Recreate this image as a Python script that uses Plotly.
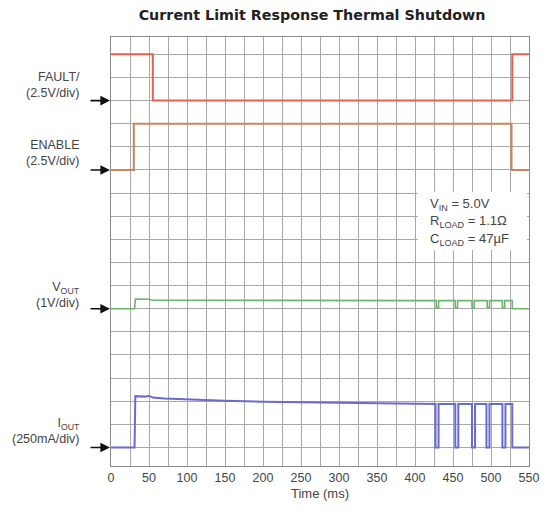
import plotly.graph_objects as go

# ---------------- data ----------------
# Time axis (ms)
x_ticks = [0, 50, 100, 150, 200, 250, 300, 350, 400, 450, 500, 550]

# FAULT/ (V)
fault_t = [0, 55, 55, 528, 528, 550]
fault_v = [5.0, 5.0, 0.0, 0.0, 5.0, 5.0]

# ENABLE (V)
enable_t = [0, 30, 30, 527, 527, 550]
enable_v = [0.0, 0.0, 5.0, 5.0, 0.0, 0.0]

# VOUT (V)
vout_t = [0, 31, 32, 40, 50, 56, 100, 200, 300, 400, 428,
          428, 431, 431, 453, 453, 456, 456, 475, 475, 478, 478,
          495, 495, 498, 498, 515, 515, 518, 518, 528, 528, 550]
vout_v = [0.0, 0.0, 0.42, 0.42, 0.41, 0.37, 0.37, 0.36, 0.355, 0.35, 0.35,
          0.05, 0.05, 0.35, 0.35, 0.05, 0.05, 0.35, 0.35, 0.05, 0.05, 0.35,
          0.35, 0.05, 0.05, 0.35, 0.35, 0.05, 0.05, 0.35, 0.35, 0.0, 0.0]

# IOUT (mA)
iout_t = [0, 31, 32, 38, 45, 50, 55, 70, 100, 150, 200, 250, 300, 350, 400, 427,
          427, 431, 431, 453, 453, 457, 457, 475, 475, 479, 479,
          494, 494, 498, 498, 515, 515, 519, 519, 528, 528, 550]
iout_v = [0, 0, 555, 555, 550, 560, 540, 530, 520, 505, 495, 488, 482, 477, 472, 470,
          0, 0, 470, 470, 0, 0, 470, 470, 0, 0, 470,
          470, 0, 0, 470, 470, 0, 0, 470, 470, 0, 0]

# channel settings: scale per div, baseline division
fault_scale, fault_base = 2.5, 15
enable_scale, enable_base = 2.5, 12
vout_scale, vout_base = 1.0, 6
iout_scale, iout_base = 250.0, 0

cond_lines = ["V<sub>IN</sub> = 5.0V", "R<sub>LOAD</sub> = 1.1Ω", "C<sub>LOAD</sub> = 47µF"]

# ---------------- figure ----------------
FONT = "Liberation Sans, Arial, sans-serif"
OFF = 8  # default page margin of the html body
PAGE_W, PAGE_H = 551, 510
W, H = PAGE_W - OFF, PAGE_H - OFF
# plot area in page pixels
PX0, PX1, PY0, PY1 = 111, 539, 37, 466
L, R, T, B = PX0 - OFF, PAGE_W - PX1, PY0 - OFF, PAGE_H - PY1
pw = PX1 - PX0
ph = PY1 - PY0

def to_div(vals, scale, base):
    return [base + v / scale for v in vals]

def xp(px):  # page px -> x paper
    return (px - PX0) / pw

def yp(py):  # page px -> y paper
    return (PY1 - py) / ph

fig = go.Figure()
fig.add_trace(go.Scatter(x=fault_t, y=to_div(fault_v, fault_scale, fault_base),
                         mode="lines", line=dict(color="#E8604C", width=2), name="FAULT/"))
fig.add_trace(go.Scatter(x=enable_t, y=to_div(enable_v, enable_scale, enable_base),
                         mode="lines", line=dict(color="#C8865A", width=2), name="ENABLE"))
fig.add_trace(go.Scatter(x=vout_t, y=to_div(vout_v, vout_scale, vout_base),
                         mode="lines", line=dict(color="#6DB46D", width=1.6), name="VOUT"))
fig.add_trace(go.Scatter(x=iout_t, y=to_div(iout_v, iout_scale, iout_base),
                         mode="lines", line=dict(color="#6A6ACF", width=2), name="IOUT"))

ymin, ymax = -0.8, 17.75

fig.update_layout(
    width=W, height=H,
    margin=dict(l=L, r=R, t=T, b=B),
    paper_bgcolor="white", plot_bgcolor="white",
    showlegend=False,
    font=dict(family=FONT, size=12, color="#444"),
    title=dict(text="<b>Current Limit Response Thermal Shutdown</b>",
               font=dict(family="DejaVu Sans, sans-serif", size=14.3, color="#222"),
               x=(312 - OFF) / W, xanchor="center", xref="container",
               y=1 - (15 - OFF) / H, yanchor="middle", yref="container"),
    xaxis=dict(range=[0, 550], tickvals=x_ticks, ticks="", showgrid=True,
               gridcolor="#a8a8a8", gridwidth=1, zeroline=False,
               minor=dict(dtick=25, tick0=0, showgrid=True, gridcolor="#a8a8a8", gridwidth=1),
               showline=True, linecolor="#8a8a8a", linewidth=1, mirror=True,
               tickfont=dict(size=12.5, color="#444"),
               title=dict(text="Time (ms)", font=dict(size=13, color="#444"), standoff=4)),
    yaxis=dict(range=[ymin, ymax], tickvals=list(range(0, 18)), showticklabels=False,
               ticks="", showgrid=True, gridcolor="#a8a8a8", gridwidth=1, zeroline=False,
               showline=True, linecolor="#8a8a8a", linewidth=1, mirror=True),
)

# white box behind conditions text
fig.add_shape(type="rect", xref="paper", yref="paper",
              x0=xp(425), x1=xp(537), y0=yp(250), y1=yp(192),
              fillcolor="white", line=dict(width=0), layer="above")

for i, txt in enumerate(cond_lines):
    fig.add_annotation(text=txt, xref="paper", yref="paper",
                       x=xp(436), xanchor="left",
                       y=yp(204 + 17.5 * i), yanchor="middle",
                       showarrow=False, font=dict(size=13, color="#444"))

# channel labels
labels = [("FAULT/<br>(2.5V/div)", 85),
          ("ENABLE<br>(2.5V/div)", 153),
          ("V<sub>OUT</sub><br>(1V/div)", 295),
          ("I<sub>OUT</sub><br>(250mA/div)", 431)]
for txt, py in labels:
    fig.add_annotation(text=txt, xref="paper", yref="paper",
                       x=xp(81), xanchor="right", align="right",
                       y=yp(py), yanchor="middle",
                       showarrow=False, font=dict(size=12.5, color="#444"))

# baseline arrows
for base in [fault_base, enable_base, vout_base, iout_base]:
    fig.add_annotation(x=0, y=base, xref="x", yref="y", ax=-22, ay=0,
                       axref="pixel", ayref="pixel", text="", showarrow=True,
                       arrowhead=2, arrowsize=1.2, arrowwidth=1.6, arrowcolor="#111",
                       standoff=1)

fig.write_html("out.html")
